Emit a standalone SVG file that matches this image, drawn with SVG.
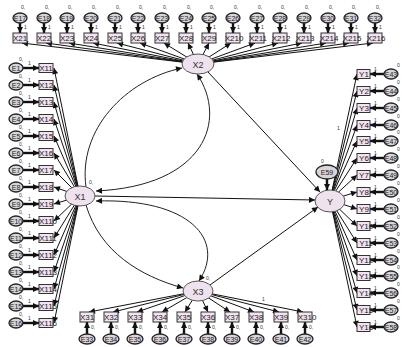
<svg xmlns="http://www.w3.org/2000/svg" width="402" height="347" viewBox="0 0 402 347">
<defs>
<marker id="ah" viewBox="0 0 10 10" refX="10" refY="5" markerWidth="8" markerHeight="6" markerUnits="userSpaceOnUse" orient="auto-start-reverse"><path d="M0,0 L10,5 L0,10 z" fill="#111"/></marker>
<style>
.ob{fill:#f1e3f1;stroke:#333;stroke-width:1}
.er{fill:#d9d4dc;stroke:#222;stroke-width:1.3}
.lt{fill:#efe2ef;stroke:#555;stroke-width:1}
.t{font-family:"Liberation Sans",Arial,sans-serif;font-size:8px;fill:#222;text-anchor:middle}
.te{font-family:"Liberation Sans",Arial,sans-serif;font-size:7px;fill:#222;text-anchor:middle}
.tl{font-family:"Liberation Sans",Arial,sans-serif;font-size:9px;fill:#333;text-anchor:middle}
.s{font-family:"Liberation Sans",Arial,sans-serif;font-size:5px;fill:#333}
.p{stroke:#111;stroke-width:1;fill:none;marker-end:url(#ah)}
.ea{stroke:#111;stroke-width:2.4;fill:none;marker-end:url(#ah)}
.c{stroke:#222;stroke-width:1;fill:none}
</style>
</defs>
<rect width="402" height="347" fill="#fff"/>
<g id="connectors">
<line class="p" x1="80" y1="196" x2="54" y2="68"/>
<line class="p" x1="80" y1="196" x2="54" y2="85"/>
<line class="p" x1="80" y1="196" x2="54" y2="102"/>
<line class="p" x1="80" y1="196" x2="54" y2="119"/>
<line class="p" x1="80" y1="196" x2="54" y2="136"/>
<line class="p" x1="80" y1="196" x2="54" y2="153"/>
<line class="p" x1="80" y1="196" x2="54" y2="170"/>
<line class="p" x1="80" y1="196" x2="54" y2="187"/>
<line class="p" x1="80" y1="196" x2="54" y2="204"/>
<line class="p" x1="80" y1="196" x2="54" y2="221"/>
<line class="p" x1="80" y1="196" x2="54" y2="238"/>
<line class="p" x1="80" y1="196" x2="54" y2="255"/>
<line class="p" x1="80" y1="196" x2="54" y2="272"/>
<line class="p" x1="80" y1="196" x2="54" y2="289"/>
<line class="p" x1="80" y1="196" x2="54" y2="306"/>
<line class="p" x1="80" y1="196" x2="54" y2="323"/>
<line class="ea" x1="23" y1="68" x2="39" y2="68"/>
<line class="ea" x1="23" y1="85" x2="39" y2="85"/>
<line class="ea" x1="23" y1="102" x2="39" y2="102"/>
<line class="ea" x1="23" y1="119" x2="39" y2="119"/>
<line class="ea" x1="23" y1="136" x2="39" y2="136"/>
<line class="ea" x1="23" y1="153" x2="39" y2="153"/>
<line class="ea" x1="23" y1="170" x2="39" y2="170"/>
<line class="ea" x1="23" y1="187" x2="39" y2="187"/>
<line class="ea" x1="23" y1="204" x2="39" y2="204"/>
<line class="ea" x1="23" y1="221" x2="39" y2="221"/>
<line class="ea" x1="23" y1="238" x2="39" y2="238"/>
<line class="ea" x1="23" y1="255" x2="39" y2="255"/>
<line class="ea" x1="23" y1="272" x2="39" y2="272"/>
<line class="ea" x1="23" y1="289" x2="39" y2="289"/>
<line class="ea" x1="23" y1="306" x2="39" y2="306"/>
<line class="ea" x1="23" y1="323" x2="39" y2="323"/>
<line class="p" x1="198" y1="64" x2="22" y2="43"/>
<line class="p" x1="198" y1="64" x2="46" y2="43"/>
<line class="p" x1="198" y1="64" x2="69" y2="43"/>
<line class="p" x1="198" y1="64" x2="93" y2="43"/>
<line class="p" x1="198" y1="64" x2="117" y2="43"/>
<line class="p" x1="198" y1="64" x2="140" y2="43"/>
<line class="p" x1="198" y1="64" x2="164" y2="43"/>
<line class="p" x1="198" y1="64" x2="188" y2="43"/>
<line class="p" x1="198" y1="64" x2="209" y2="43"/>
<line class="p" x1="198" y1="64" x2="231" y2="43"/>
<line class="p" x1="198" y1="64" x2="255" y2="43"/>
<line class="p" x1="198" y1="64" x2="278" y2="43"/>
<line class="p" x1="198" y1="64" x2="302" y2="43"/>
<line class="p" x1="198" y1="64" x2="326" y2="43"/>
<line class="p" x1="198" y1="64" x2="349" y2="43"/>
<line class="p" x1="198" y1="64" x2="373" y2="43"/>
<line class="ea" x1="20" y1="23" x2="20" y2="33"/>
<line class="ea" x1="44" y1="23" x2="44" y2="33"/>
<line class="ea" x1="67" y1="23" x2="67" y2="33"/>
<line class="ea" x1="91" y1="23" x2="91" y2="33"/>
<line class="ea" x1="115" y1="23" x2="115" y2="33"/>
<line class="ea" x1="138" y1="23" x2="138" y2="33"/>
<line class="ea" x1="162" y1="23" x2="162" y2="33"/>
<line class="ea" x1="186" y1="23" x2="186" y2="33"/>
<line class="ea" x1="209" y1="23" x2="209" y2="33"/>
<line class="ea" x1="233" y1="23" x2="233" y2="33"/>
<line class="ea" x1="257" y1="23" x2="257" y2="33"/>
<line class="ea" x1="280" y1="23" x2="280" y2="33"/>
<line class="ea" x1="304" y1="23" x2="304" y2="33"/>
<line class="ea" x1="328" y1="23" x2="328" y2="33"/>
<line class="ea" x1="351" y1="23" x2="351" y2="33"/>
<line class="ea" x1="375" y1="23" x2="375" y2="33"/>
<line class="p" x1="330" y1="200" x2="357" y2="74"/>
<line class="p" x1="330" y1="200" x2="357" y2="91"/>
<line class="p" x1="330" y1="200" x2="357" y2="108"/>
<line class="p" x1="330" y1="200" x2="357" y2="125"/>
<line class="p" x1="330" y1="200" x2="357" y2="141"/>
<line class="p" x1="330" y1="200" x2="357" y2="158"/>
<line class="p" x1="330" y1="200" x2="357" y2="175"/>
<line class="p" x1="330" y1="200" x2="357" y2="192"/>
<line class="p" x1="330" y1="200" x2="357" y2="209"/>
<line class="p" x1="330" y1="200" x2="357" y2="226"/>
<line class="p" x1="330" y1="200" x2="357" y2="243"/>
<line class="p" x1="330" y1="200" x2="357" y2="260"/>
<line class="p" x1="330" y1="200" x2="357" y2="276"/>
<line class="p" x1="330" y1="200" x2="357" y2="293"/>
<line class="p" x1="330" y1="200" x2="357" y2="310"/>
<line class="p" x1="330" y1="200" x2="357" y2="327"/>
<line class="ea" x1="384" y1="74" x2="370" y2="74"/>
<line class="ea" x1="384" y1="91" x2="370" y2="91"/>
<line class="ea" x1="384" y1="108" x2="370" y2="108"/>
<line class="ea" x1="384" y1="125" x2="370" y2="125"/>
<line class="ea" x1="384" y1="141" x2="370" y2="141"/>
<line class="ea" x1="384" y1="158" x2="370" y2="158"/>
<line class="ea" x1="384" y1="175" x2="370" y2="175"/>
<line class="ea" x1="384" y1="192" x2="370" y2="192"/>
<line class="ea" x1="384" y1="209" x2="370" y2="209"/>
<line class="ea" x1="384" y1="226" x2="370" y2="226"/>
<line class="ea" x1="384" y1="243" x2="370" y2="243"/>
<line class="ea" x1="384" y1="260" x2="370" y2="260"/>
<line class="ea" x1="384" y1="276" x2="370" y2="276"/>
<line class="ea" x1="384" y1="293" x2="370" y2="293"/>
<line class="ea" x1="384" y1="310" x2="370" y2="310"/>
<line class="ea" x1="384" y1="327" x2="370" y2="327"/>
<line class="p" x1="198" y1="291" x2="89" y2="312"/>
<line class="p" x1="198" y1="291" x2="113" y2="312"/>
<line class="p" x1="198" y1="291" x2="137" y2="312"/>
<line class="p" x1="198" y1="291" x2="162" y2="312"/>
<line class="p" x1="198" y1="291" x2="185" y2="312"/>
<line class="p" x1="198" y1="291" x2="208" y2="312"/>
<line class="p" x1="198" y1="291" x2="230" y2="312"/>
<line class="p" x1="198" y1="291" x2="254" y2="312"/>
<line class="p" x1="198" y1="291" x2="279" y2="312"/>
<line class="p" x1="198" y1="291" x2="303" y2="312"/>
<line class="ea" x1="87" y1="334" x2="87" y2="322"/>
<line class="ea" x1="111" y1="334" x2="111" y2="322"/>
<line class="ea" x1="135" y1="334" x2="135" y2="322"/>
<line class="ea" x1="160" y1="334" x2="160" y2="322"/>
<line class="ea" x1="184" y1="334" x2="184" y2="322"/>
<line class="ea" x1="208" y1="334" x2="208" y2="322"/>
<line class="ea" x1="232" y1="334" x2="232" y2="322"/>
<line class="ea" x1="256" y1="334" x2="256" y2="322"/>
<line class="ea" x1="281" y1="334" x2="281" y2="322"/>
<line class="ea" x1="305" y1="334" x2="305" y2="322"/>
<line class="p" x1="95" y1="196" x2="315" y2="200"/>
<line class="p" x1="208" y1="72" x2="320" y2="192"/>
<line class="p" x1="210" y1="285" x2="318" y2="207"/>
<line class="ea" x1="327" y1="179" x2="327" y2="190"/>
<path class="c" marker-end="url(#ah)" d="M86,187 C78,130 125,80 182,68"/>
<path class="c" marker-start="url(#ah)" marker-end="url(#ah)" d="M197,74 C228,120 205,186 96,191"/>
<path class="c" marker-start="url(#ah)" marker-end="url(#ah)" d="M96,201 C190,198 226,240 199,281"/>
<path class="c" marker-end="url(#ah)" d="M86,205 C100,252 140,276 183,288"/>
<text class="s" x="262" y="301">1</text>
<text class="s" x="337" y="130">1</text>
</g>
<g id="X1"><ellipse class="lt" cx="80" cy="196" rx="15" ry="10"/><text class="tl" x="80" y="199.5">X1</text><text class="s" x="89" y="184">0,</text></g>
<g id="X2"><ellipse class="lt" cx="198" cy="64" rx="16" ry="10"/><text class="tl" x="198" y="67.5">X2</text></g>
<g id="X3"><ellipse class="lt" cx="198" cy="291" rx="15" ry="10"/><text class="tl" x="198" y="294.5">X3</text><text class="s" x="206" y="280">0,</text></g>
<g id="Y"><ellipse class="lt" cx="330" cy="201" rx="15" ry="11"/><text class="tl" x="330" y="204.5">Y</text></g>
<g id="E59"><ellipse class="er" cx="327" cy="172" rx="11" ry="7"/><text class="te" x="327" y="174.5">E59</text><text class="s" x="321" y="163">0</text></g>
<g id="X11"><rect class="ob" x="39" y="63.5" width="14" height="9"/><text class="t" x="46" y="71">X11</text></g>
<g id="X12"><rect class="ob" x="39" y="80.5" width="14" height="9"/><text class="t" x="46" y="88">X12</text></g>
<g id="X13"><rect class="ob" x="39" y="97.5" width="14" height="9"/><text class="t" x="46" y="105">X13</text></g>
<g id="X14"><rect class="ob" x="39" y="114.5" width="14" height="9"/><text class="t" x="46" y="122">X14</text></g>
<g id="X15"><rect class="ob" x="39" y="131.5" width="14" height="9"/><text class="t" x="46" y="139">X15</text></g>
<g id="X16"><rect class="ob" x="39" y="148.5" width="14" height="9"/><text class="t" x="46" y="156">X16</text></g>
<g id="X17"><rect class="ob" x="39" y="165.5" width="14" height="9"/><text class="t" x="46" y="173">X17</text></g>
<g id="X18"><rect class="ob" x="39" y="182.5" width="14" height="9"/><text class="t" x="46" y="190">X18</text></g>
<g id="X19"><rect class="ob" x="39" y="199.5" width="14" height="9"/><text class="t" x="46" y="207">X19</text></g>
<g id="X110"><rect class="ob" x="39" y="216.5" width="14" height="9"/><text class="t" x="48" y="224">X110</text></g>
<g id="X111"><rect class="ob" x="39" y="233.5" width="14" height="9"/><text class="t" x="48" y="241">X111</text></g>
<g id="X112"><rect class="ob" x="39" y="250.5" width="14" height="9"/><text class="t" x="48" y="258">X112</text></g>
<g id="X113"><rect class="ob" x="39" y="267.5" width="14" height="9"/><text class="t" x="48" y="275">X113</text></g>
<g id="X114"><rect class="ob" x="39" y="284.5" width="14" height="9"/><text class="t" x="48" y="292">X114</text></g>
<g id="X115"><rect class="ob" x="39" y="301.5" width="14" height="9"/><text class="t" x="48" y="309">X115</text></g>
<g id="X116"><rect class="ob" x="39" y="318.5" width="14" height="9"/><text class="t" x="48" y="326">X116</text></g>
<g id="E1"><ellipse class="er" cx="16" cy="68" rx="7" ry="5"/><text class="te" x="16" y="70.5">E1</text><text class="s" x="19" y="61">0,</text><text class="s" x="28" y="65">1</text></g>
<g id="E2"><ellipse class="er" cx="16" cy="85" rx="7" ry="5"/><text class="te" x="16" y="87.5">E2</text><text class="s" x="19" y="78">0,</text><text class="s" x="28" y="82">1</text></g>
<g id="E3"><ellipse class="er" cx="16" cy="102" rx="7" ry="5"/><text class="te" x="16" y="104.5">E3</text><text class="s" x="19" y="95">0,</text><text class="s" x="28" y="99">1</text></g>
<g id="E4"><ellipse class="er" cx="16" cy="119" rx="7" ry="5"/><text class="te" x="16" y="121.5">E4</text><text class="s" x="19" y="112">0,</text><text class="s" x="28" y="116">1</text></g>
<g id="E5"><ellipse class="er" cx="16" cy="136" rx="7" ry="5"/><text class="te" x="16" y="138.5">E5</text><text class="s" x="19" y="129">0,</text><text class="s" x="28" y="133">1</text></g>
<g id="E6"><ellipse class="er" cx="16" cy="153" rx="7" ry="5"/><text class="te" x="16" y="155.5">E6</text><text class="s" x="19" y="146">0,</text><text class="s" x="28" y="150">1</text></g>
<g id="E7"><ellipse class="er" cx="16" cy="170" rx="7" ry="5"/><text class="te" x="16" y="172.5">E7</text><text class="s" x="19" y="163">0,</text><text class="s" x="28" y="167">1</text></g>
<g id="E8"><ellipse class="er" cx="16" cy="187" rx="7" ry="5"/><text class="te" x="16" y="189.5">E8</text><text class="s" x="19" y="180">0,</text><text class="s" x="28" y="184">1</text></g>
<g id="E9"><ellipse class="er" cx="16" cy="204" rx="7" ry="5"/><text class="te" x="16" y="206.5">E9</text><text class="s" x="19" y="197">0,</text><text class="s" x="28" y="201">1</text></g>
<g id="E10"><ellipse class="er" cx="16" cy="221" rx="7" ry="5"/><text class="te" x="16" y="223.5">E10</text><text class="s" x="19" y="214">0,</text><text class="s" x="28" y="218">1</text></g>
<g id="E11"><ellipse class="er" cx="16" cy="238" rx="7" ry="5"/><text class="te" x="16" y="240.5">E11</text><text class="s" x="19" y="231">0,</text><text class="s" x="28" y="235">1</text></g>
<g id="E12"><ellipse class="er" cx="16" cy="255" rx="7" ry="5"/><text class="te" x="16" y="257.5">E12</text><text class="s" x="19" y="248">0,</text><text class="s" x="28" y="252">1</text></g>
<g id="E13"><ellipse class="er" cx="16" cy="272" rx="7" ry="5"/><text class="te" x="16" y="274.5">E13</text><text class="s" x="19" y="265">0,</text><text class="s" x="28" y="269">1</text></g>
<g id="E14"><ellipse class="er" cx="16" cy="289" rx="7" ry="5"/><text class="te" x="16" y="291.5">E14</text><text class="s" x="19" y="282">0,</text><text class="s" x="28" y="286">1</text></g>
<g id="E15"><ellipse class="er" cx="16" cy="306" rx="7" ry="5"/><text class="te" x="16" y="308.5">E15</text><text class="s" x="19" y="299">0,</text><text class="s" x="28" y="303">1</text></g>
<g id="E16"><ellipse class="er" cx="16" cy="323" rx="7" ry="5"/><text class="te" x="16" y="325.5">E16</text><text class="s" x="19" y="316">0,</text><text class="s" x="28" y="320">1</text></g>
<g id="X21"><rect class="ob" x="13" y="33" width="14" height="10"/><text class="t" x="20" y="41">X21</text></g>
<g id="X22"><rect class="ob" x="37" y="33" width="14" height="10"/><text class="t" x="44" y="41">X22</text></g>
<g id="X23"><rect class="ob" x="60" y="33" width="14" height="10"/><text class="t" x="67" y="41">X23</text></g>
<g id="X24"><rect class="ob" x="84" y="33" width="14" height="10"/><text class="t" x="91" y="41">X24</text></g>
<g id="X25"><rect class="ob" x="108" y="33" width="14" height="10"/><text class="t" x="115" y="41">X25</text></g>
<g id="X26"><rect class="ob" x="131" y="33" width="14" height="10"/><text class="t" x="138" y="41">X26</text></g>
<g id="X27"><rect class="ob" x="155" y="33" width="14" height="10"/><text class="t" x="162" y="41">X27</text></g>
<g id="X28"><rect class="ob" x="179" y="33" width="14" height="10"/><text class="t" x="186" y="41">X28</text></g>
<g id="X29"><rect class="ob" x="202" y="33" width="14" height="10"/><text class="t" x="209" y="41">X29</text></g>
<g id="X210"><rect class="ob" x="226" y="33" width="14" height="10"/><text class="t" x="234" y="41">X210</text></g>
<g id="X211"><rect class="ob" x="250" y="33" width="14" height="10"/><text class="t" x="258" y="41">X211</text></g>
<g id="X212"><rect class="ob" x="273" y="33" width="14" height="10"/><text class="t" x="281" y="41">X212</text></g>
<g id="X213"><rect class="ob" x="297" y="33" width="14" height="10"/><text class="t" x="305" y="41">X213</text></g>
<g id="X214"><rect class="ob" x="321" y="33" width="14" height="10"/><text class="t" x="329" y="41">X214</text></g>
<g id="X215"><rect class="ob" x="344" y="33" width="14" height="10"/><text class="t" x="352" y="41">X215</text></g>
<g id="X216"><rect class="ob" x="368" y="33" width="14" height="10"/><text class="t" x="376" y="41">X216</text></g>
<g id="E17"><ellipse class="er" cx="20" cy="18" rx="7" ry="5"/><text class="te" x="20" y="20.5">E17</text><text class="s" x="21" y="9">0,</text><text class="s" x="24" y="29">1</text></g>
<g id="E18"><ellipse class="er" cx="44" cy="18" rx="7" ry="5"/><text class="te" x="44" y="20.5">E18</text><text class="s" x="45" y="9">0,</text><text class="s" x="48" y="29">1</text></g>
<g id="E19"><ellipse class="er" cx="67" cy="18" rx="7" ry="5"/><text class="te" x="67" y="20.5">E19</text><text class="s" x="68" y="9">0,</text><text class="s" x="71" y="29">1</text></g>
<g id="E20"><ellipse class="er" cx="91" cy="18" rx="7" ry="5"/><text class="te" x="91" y="20.5">E20</text><text class="s" x="92" y="9">0,</text><text class="s" x="95" y="29">1</text></g>
<g id="E21"><ellipse class="er" cx="115" cy="18" rx="7" ry="5"/><text class="te" x="115" y="20.5">E21</text><text class="s" x="116" y="9">0,</text><text class="s" x="119" y="29">1</text></g>
<g id="E22"><ellipse class="er" cx="138" cy="18" rx="7" ry="5"/><text class="te" x="138" y="20.5">E22</text><text class="s" x="139" y="9">0,</text><text class="s" x="142" y="29">1</text></g>
<g id="E23"><ellipse class="er" cx="162" cy="18" rx="7" ry="5"/><text class="te" x="162" y="20.5">E23</text><text class="s" x="163" y="9">0,</text><text class="s" x="166" y="29">1</text></g>
<g id="E24"><ellipse class="er" cx="186" cy="18" rx="7" ry="5"/><text class="te" x="186" y="20.5">E24</text><text class="s" x="187" y="9">0,</text><text class="s" x="190" y="29">1</text></g>
<g id="E25"><ellipse class="er" cx="209" cy="18" rx="7" ry="5"/><text class="te" x="209" y="20.5">E25</text><text class="s" x="210" y="9">0,</text><text class="s" x="213" y="29">1</text></g>
<g id="E26"><ellipse class="er" cx="233" cy="18" rx="7" ry="5"/><text class="te" x="233" y="20.5">E26</text><text class="s" x="234" y="9">0,</text><text class="s" x="237" y="29">1</text></g>
<g id="E27"><ellipse class="er" cx="257" cy="18" rx="7" ry="5"/><text class="te" x="257" y="20.5">E27</text><text class="s" x="258" y="9">0,</text><text class="s" x="261" y="29">1</text></g>
<g id="E28"><ellipse class="er" cx="280" cy="18" rx="7" ry="5"/><text class="te" x="280" y="20.5">E28</text><text class="s" x="281" y="9">0,</text><text class="s" x="284" y="29">1</text></g>
<g id="E29"><ellipse class="er" cx="304" cy="18" rx="7" ry="5"/><text class="te" x="304" y="20.5">E29</text><text class="s" x="305" y="9">0,</text><text class="s" x="308" y="29">1</text></g>
<g id="E30"><ellipse class="er" cx="328" cy="18" rx="7" ry="5"/><text class="te" x="328" y="20.5">E30</text><text class="s" x="329" y="9">0,</text><text class="s" x="332" y="29">1</text></g>
<g id="E31"><ellipse class="er" cx="351" cy="18" rx="7" ry="5"/><text class="te" x="351" y="20.5">E31</text><text class="s" x="352" y="9">0,</text><text class="s" x="355" y="29">1</text></g>
<g id="E32"><ellipse class="er" cx="375" cy="18" rx="7" ry="5"/><text class="te" x="375" y="20.5">E32</text><text class="s" x="376" y="9">0,</text><text class="s" x="379" y="29">1</text></g>
<g id="Y1"><rect class="ob" x="357" y="69.5" width="13" height="9"/><text class="t" x="364" y="77">Y1</text></g>
<g id="Y2"><rect class="ob" x="357" y="86.5" width="13" height="9"/><text class="t" x="364" y="94">Y2</text></g>
<g id="Y3"><rect class="ob" x="357" y="103.5" width="13" height="9"/><text class="t" x="364" y="111">Y3</text></g>
<g id="Y4"><rect class="ob" x="357" y="120.5" width="13" height="9"/><text class="t" x="364" y="128">Y4</text></g>
<g id="Y5"><rect class="ob" x="357" y="136.5" width="13" height="9"/><text class="t" x="364" y="144">Y5</text></g>
<g id="Y6"><rect class="ob" x="357" y="153.5" width="13" height="9"/><text class="t" x="364" y="161">Y6</text></g>
<g id="Y7"><rect class="ob" x="357" y="170.5" width="13" height="9"/><text class="t" x="364" y="178">Y7</text></g>
<g id="Y8"><rect class="ob" x="357" y="187.5" width="13" height="9"/><text class="t" x="364" y="195">Y8</text></g>
<g id="Y9"><rect class="ob" x="357" y="204.5" width="13" height="9"/><text class="t" x="364" y="212">Y9</text></g>
<g id="Y10"><rect class="ob" x="357" y="221.5" width="13" height="9"/><text class="t" x="366" y="229">Y10</text></g>
<g id="Y11"><rect class="ob" x="357" y="238.5" width="13" height="9"/><text class="t" x="366" y="246">Y11</text></g>
<g id="Y12"><rect class="ob" x="357" y="255.5" width="13" height="9"/><text class="t" x="366" y="263">Y12</text></g>
<g id="Y13"><rect class="ob" x="357" y="271.5" width="13" height="9"/><text class="t" x="366" y="279">Y13</text></g>
<g id="Y14"><rect class="ob" x="357" y="288.5" width="13" height="9"/><text class="t" x="366" y="296">Y14</text></g>
<g id="Y15"><rect class="ob" x="357" y="305.5" width="13" height="9"/><text class="t" x="366" y="313">Y15</text></g>
<g id="Y16"><rect class="ob" x="357" y="322.5" width="13" height="9"/><text class="t" x="366" y="330">Y16</text></g>
<g id="E43"><ellipse class="er" cx="391" cy="74" rx="7" ry="5"/><text class="te" x="391" y="76.5">E43</text><text class="s" x="397" y="67">0</text><text class="s" x="374" y="71">1</text></g>
<g id="E44"><ellipse class="er" cx="391" cy="91" rx="7" ry="5"/><text class="te" x="391" y="93.5">E44</text><text class="s" x="397" y="84">0</text><text class="s" x="374" y="88">1</text></g>
<g id="E45"><ellipse class="er" cx="391" cy="108" rx="7" ry="5"/><text class="te" x="391" y="110.5">E45</text><text class="s" x="397" y="101">0</text><text class="s" x="374" y="105">1</text></g>
<g id="E46"><ellipse class="er" cx="391" cy="125" rx="7" ry="5"/><text class="te" x="391" y="127.5">E46</text><text class="s" x="397" y="118">0</text><text class="s" x="374" y="122">1</text></g>
<g id="E47"><ellipse class="er" cx="391" cy="141" rx="7" ry="5"/><text class="te" x="391" y="143.5">E47</text><text class="s" x="397" y="134">0</text><text class="s" x="374" y="138">1</text></g>
<g id="E48"><ellipse class="er" cx="391" cy="158" rx="7" ry="5"/><text class="te" x="391" y="160.5">E48</text><text class="s" x="397" y="151">0</text><text class="s" x="374" y="155">1</text></g>
<g id="E49"><ellipse class="er" cx="391" cy="175" rx="7" ry="5"/><text class="te" x="391" y="177.5">E49</text><text class="s" x="397" y="168">0</text><text class="s" x="374" y="172">1</text></g>
<g id="E50"><ellipse class="er" cx="391" cy="192" rx="7" ry="5"/><text class="te" x="391" y="194.5">E50</text><text class="s" x="397" y="185">0</text><text class="s" x="374" y="189">1</text></g>
<g id="E51"><ellipse class="er" cx="391" cy="209" rx="7" ry="5"/><text class="te" x="391" y="211.5">E51</text><text class="s" x="397" y="202">0</text><text class="s" x="374" y="206">1</text></g>
<g id="E52"><ellipse class="er" cx="391" cy="226" rx="7" ry="5"/><text class="te" x="391" y="228.5">E52</text><text class="s" x="397" y="219">0</text><text class="s" x="374" y="223">1</text></g>
<g id="E53"><ellipse class="er" cx="391" cy="243" rx="7" ry="5"/><text class="te" x="391" y="245.5">E53</text><text class="s" x="397" y="236">0</text><text class="s" x="374" y="240">1</text></g>
<g id="E54"><ellipse class="er" cx="391" cy="260" rx="7" ry="5"/><text class="te" x="391" y="262.5">E54</text><text class="s" x="397" y="253">0</text><text class="s" x="374" y="257">1</text></g>
<g id="E55"><ellipse class="er" cx="391" cy="276" rx="7" ry="5"/><text class="te" x="391" y="278.5">E55</text><text class="s" x="397" y="269">0</text><text class="s" x="374" y="273">1</text></g>
<g id="E56"><ellipse class="er" cx="391" cy="293" rx="7" ry="5"/><text class="te" x="391" y="295.5">E56</text><text class="s" x="397" y="286">0</text><text class="s" x="374" y="290">1</text></g>
<g id="E57"><ellipse class="er" cx="391" cy="310" rx="7" ry="5"/><text class="te" x="391" y="312.5">E57</text><text class="s" x="397" y="303">0</text><text class="s" x="374" y="307">1</text></g>
<g id="E58"><ellipse class="er" cx="391" cy="327" rx="7" ry="5"/><text class="te" x="391" y="329.5">E58</text><text class="s" x="397" y="320">0</text><text class="s" x="374" y="324">1</text></g>
<g id="X31"><rect class="ob" x="80" y="312" width="14" height="10"/><text class="t" x="87" y="320">X31</text></g>
<g id="X32"><rect class="ob" x="104" y="312" width="14" height="10"/><text class="t" x="111" y="320">X32</text></g>
<g id="X33"><rect class="ob" x="128" y="312" width="14" height="10"/><text class="t" x="135" y="320">X33</text></g>
<g id="X34"><rect class="ob" x="153" y="312" width="14" height="10"/><text class="t" x="160" y="320">X34</text></g>
<g id="X35"><rect class="ob" x="177" y="312" width="14" height="10"/><text class="t" x="184" y="320">X35</text></g>
<g id="X36"><rect class="ob" x="201" y="312" width="14" height="10"/><text class="t" x="208" y="320">X36</text></g>
<g id="X37"><rect class="ob" x="225" y="312" width="14" height="10"/><text class="t" x="232" y="320">X37</text></g>
<g id="X38"><rect class="ob" x="249" y="312" width="14" height="10"/><text class="t" x="256" y="320">X38</text></g>
<g id="X39"><rect class="ob" x="274" y="312" width="14" height="10"/><text class="t" x="281" y="320">X39</text></g>
<g id="X310"><rect class="ob" x="298" y="312" width="14" height="10"/><text class="t" x="307" y="320">X310</text></g>
<g id="E33"><ellipse class="er" cx="87" cy="339" rx="8" ry="5"/><text class="te" x="87" y="341.5">E33</text><text class="s" x="91" y="329">0,</text></g>
<g id="E34"><ellipse class="er" cx="111" cy="339" rx="8" ry="5"/><text class="te" x="111" y="341.5">E34</text><text class="s" x="115" y="329">0,</text></g>
<g id="E35"><ellipse class="er" cx="135" cy="339" rx="8" ry="5"/><text class="te" x="135" y="341.5">E35</text><text class="s" x="139" y="329">0,</text></g>
<g id="E36"><ellipse class="er" cx="160" cy="339" rx="8" ry="5"/><text class="te" x="160" y="341.5">E36</text><text class="s" x="164" y="329">0,</text></g>
<g id="E37"><ellipse class="er" cx="184" cy="339" rx="8" ry="5"/><text class="te" x="184" y="341.5">E37</text><text class="s" x="188" y="329">0,</text></g>
<g id="E38"><ellipse class="er" cx="208" cy="339" rx="8" ry="5"/><text class="te" x="208" y="341.5">E38</text><text class="s" x="212" y="329">0,</text></g>
<g id="E39"><ellipse class="er" cx="232" cy="339" rx="8" ry="5"/><text class="te" x="232" y="341.5">E39</text><text class="s" x="236" y="329">0,</text></g>
<g id="E40"><ellipse class="er" cx="256" cy="339" rx="8" ry="5"/><text class="te" x="256" y="341.5">E40</text><text class="s" x="260" y="329">0,</text></g>
<g id="E41"><ellipse class="er" cx="281" cy="339" rx="8" ry="5"/><text class="te" x="281" y="341.5">E41</text><text class="s" x="285" y="329">0,</text></g>
<g id="E42"><ellipse class="er" cx="305" cy="339" rx="8" ry="5"/><text class="te" x="305" y="341.5">E42</text><text class="s" x="309" y="329">0,</text></g>
</svg>
